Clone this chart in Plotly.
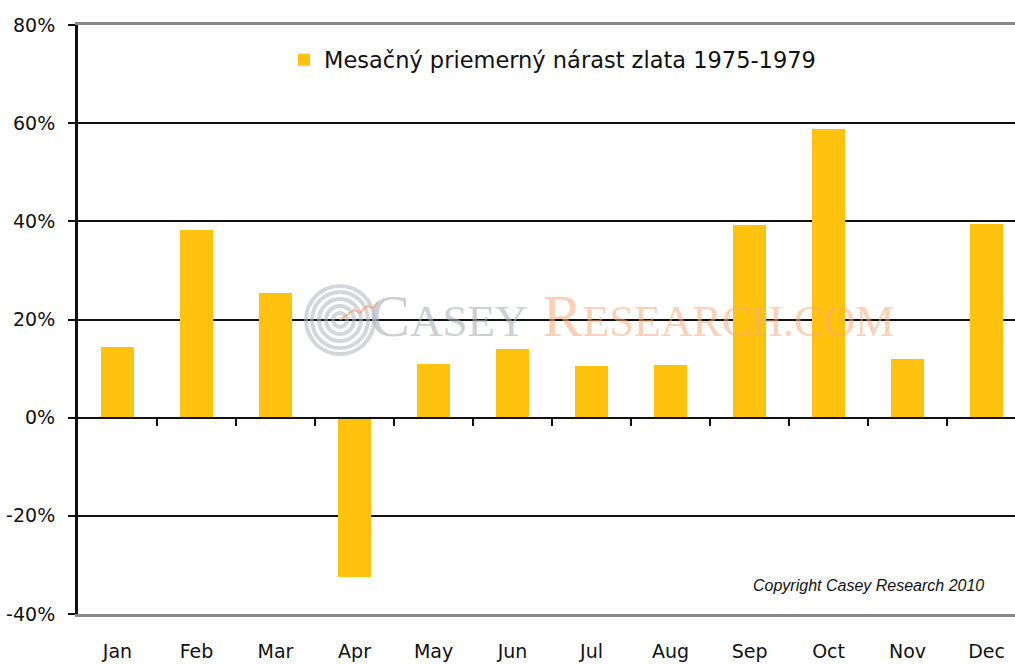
import plotly.graph_objects as go

months = ["Jan", "Feb", "Mar", "Apr", "May", "Jun", "Jul", "Aug", "Sep", "Oct", "Nov", "Dec"]
growth = [14.5, 38.2, 25.5, -32.4, 11.0, 13.9, 10.6, 10.8, 39.2, 58.8, 12.0, 39.4]
series_name = "Mesačný priemerný nárast zlata 1975-1979"
y_ticks = [-40, -20, 0, 20, 40, 60, 80]
y_labels = ["-40%", "-20%", "0%", "20%", "40%", "60%", "80%"]

W, H = 1015, 664
L, R, T, B = 78, 0, 25, 50
PW, PH = W - L - R, H - T - B
x_range = [-0.5, 11.36]
pos = list(range(len(months)))

fig = go.Figure()
fig.add_trace(go.Bar(
    x=pos, y=growth, name=series_name,
    marker=dict(color="#FFC20E", line=dict(width=0)),
    width=0.41, showlegend=True, hoverinfo="x+y",
))
# same bars on the overlaid axis that carries the zero-line ticks (kept invisible)
fig.add_trace(go.Bar(
    x=pos, y=growth, xaxis="x2", width=0.41, opacity=0,
    showlegend=False, hoverinfo="skip",
))

# watermark logo (concentric rings), in paper coords
cx, cy = (340 - L) / PW, (H - B - 320) / PH
shapes = []
for r in [7, 14, 21, 28, 34]:
    shapes.append(dict(
        type="circle", xref="paper", yref="paper", layer="above",
        x0=cx - r / PW, x1=cx + r / PW, y0=cy - r / PH, y1=cy + r / PH,
        line=dict(color="rgba(175,180,188,0.55)", width=4),
    ))
shapes.append(dict(
    type="path", xref="paper", yref="paper", layer="above",
    path=(f"M {cx:.4f} {cy:.4f} L {cx + 14/PW:.4f} {cy + 10/PH:.4f} "
          f"L {cx + 20/PW:.4f} {cy + 7/PH:.4f} L {cx + 27/PW:.4f} {cy + 14/PH:.4f} "
          f"L {cx + 33/PW:.4f} {cy + 12/PH:.4f} L {cx + 38/PW:.4f} {cy + 18/PH:.4f}"),
    line=dict(color="rgba(245,160,110,0.7)", width=2),
))

annotations = [
    dict(
        xref="paper", yref="paper", x=(368 - L) / PW, y=(H - B - 316) / PH,
        xanchor="left", yanchor="middle", showarrow=False,
        text=("<span style='color:rgba(170,175,182,0.6)'>C<span style='font-size:45px'>ASEY</span></span>"
              " <span style='color:rgba(248,170,120,0.55)'>R<span style='font-size:44px'>ESEARCH.COM</span></span>"),
        font=dict(family="Liberation Serif", size=60),
    ),
    dict(
        xref="paper", yref="paper", x=(986 - L) / PW, y=(H - B - 585) / PH,
        xanchor="right", yanchor="middle", showarrow=False,
        text="<i>Copyright Casey Research 2010</i>",
        font=dict(family="Liberation Sans", size=16, color="#111"),
    ),
]

fig.update_layout(
    width=W, height=H,
    margin=dict(l=L, r=R, t=T, b=B, autoexpand=False),
    paper_bgcolor="white", plot_bgcolor="white",
    font=dict(family="DejaVu Sans", color="#111"),
    bargap=0, barmode="overlay",
    shapes=shapes, annotations=annotations,
    legend=dict(
        x=(284 - L) / PW, y=(H - B - 60) / PH, xanchor="left", yanchor="middle",
        bgcolor="rgba(0,0,0,0)", font=dict(size=22.5, family="DejaVu Sans", color="#111"),
        itemwidth=30,
    ),
    xaxis=dict(
        range=x_range, tickmode="array", tickvals=pos, ticktext=months,
        showgrid=False, zeroline=False, ticks="", tickfont=dict(size=19),
        ticklabelstandoff=18, automargin=False,
        showline=True, linecolor="#8a8a8a", linewidth=3, mirror=True,
    ),
    xaxis2=dict(
        overlaying="x", anchor="free", position=40 / 120, range=x_range,
        tickmode="array", tickvals=[i + 0.5 for i in pos],
        ticks="outside", ticklen=7, tickwidth=2, tickcolor="#111",
        showticklabels=False, showgrid=False, zeroline=False, automargin=False,
        showline=True, linecolor="#111", linewidth=2,
    ),
    yaxis=dict(
        range=[-40, 80], tickmode="array", tickvals=y_ticks, ticktext=y_labels,
        showgrid=True, gridcolor="#111", gridwidth=2, zeroline=False,
        ticks="outside", ticklen=7, tickwidth=2, tickcolor="#111",
        showline=True, linecolor="#111", linewidth=3, automargin=False,
        ticklabelstandoff=9, tickfont=dict(size=19),
    ),
)

fig.write_html(
    "out.html",
    config={"displayModeBar": False},
    post_script="document.body.style.margin='0px';",
)
